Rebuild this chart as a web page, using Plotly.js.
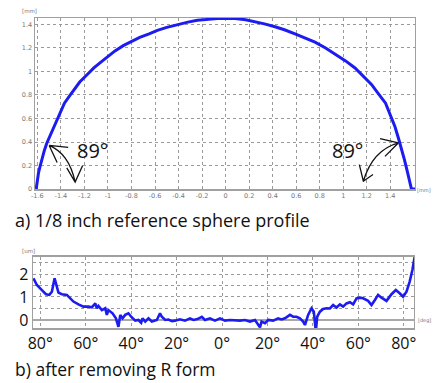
<!DOCTYPE html>
<html>
<head>
<meta charset="utf-8">
<script src="https://cdn.plot.ly/plotly-3.0.1.min.js"></script>
<style>html,body{margin:0;padding:0;background:#fff;}#chart{width:435px;height:383px;}</style>
</head>
<body>
<div id="chart"></div>
<script>
// a) 1/8 inch reference sphere profile (mm)
const profileX = [-1.61,-1.60,-1.59,-1.575,-1.56,-1.54,-1.52,-1.49,-1.46,-1.43,-1.41,-1.37,-1.32,-1.28,-1.24,-1.18,-1.12,-1.06,-1.00,-0.94,-0.87,-0.80,-0.73,-0.65,-0.58,-0.50,-0.41,-0.32,-0.24,-0.15,-0.07,0.00,0.08,0.17,0.25,0.33,0.42,0.50,0.59,0.67,0.76,0.85,0.93,1.02,1.10,1.17,1.24,1.30,1.36,1.40,1.44,1.47,1.50,1.52,1.54,1.555,1.57,1.58,1.61];
const profileY = [0,0.07,0.14,0.20,0.26,0.33,0.39,0.46,0.53,0.60,0.65,0.73,0.80,0.855,0.91,0.97,1.03,1.08,1.13,1.175,1.22,1.255,1.29,1.32,1.35,1.375,1.40,1.42,1.435,1.445,1.45,1.452,1.45,1.44,1.425,1.405,1.38,1.355,1.32,1.29,1.25,1.20,1.15,1.09,1.03,0.96,0.89,0.81,0.73,0.63,0.53,0.43,0.33,0.25,0.17,0.11,0.05,0,0];
const profXTicks = [-1.6,-1.4,-1.2,-1,-0.8,-0.6,-0.4,-0.2,0,0.2,0.4,0.6,0.8,1,1.2,1.4];
const profXLabels = ["-1.6","-1.4","-1.2","-1","-0.8","-0.6","-0.4","-0.2","0","0.2","0.4","0.6","0.8","1","1.2","1.4"];
const profYTicks = [0,0.2,0.4,0.6,0.8,1,1.2,1.4];
const profYLabels = ["0","0.2","0.4","0.6","0.8","1","1.2","1.4"];

// b) after removing R form (um vs deg)
const angleDeg = [-83,-81.5,-79.3,-77.5,-76,-74.9,-73.7,-73.1,-72,-70.5,-68.3,-66.8,-65.4,-63.2,-61,-58.8,-57.3,-55.8,-55.1,-54.4,-52.9,-51.4,-50.7,-50,-48.2,-46.7,-45.6,-44.8,-43.8,-42.6,-41.2,-40,-38.2,-36.8,-35.6,-35,-33.8,-32.4,-30.9,-28.7,-27.3,-26.5,-25,-23.6,-22,-20.7,-18.5,-16.3,-14.1,-12.6,-10.8,-8.9,-7.5,-5.3,-3.1,-0.9,1.3,3.5,5.7,7.9,10.1,12.3,14.5,16.7,17.4,18.9,20.4,22.5,24.7,26.2,27.7,29.9,31.3,32.8,34.3,35.7,36.5,37.2,37.9,39.4,40.4,41.3,41.9,43.1,44.5,46,47.5,48.9,50.4,51.9,53.3,54.8,56.3,57.7,59.2,60.7,62.1,64.3,65.8,67.3,68.7,70.2,72.4,74.6,76.5,78.2,79.7,81.2,82.6,83.8,84.8];
const deviationUm = [1.81,1.52,1.30,1.12,1.09,1.23,1.81,1.60,1.19,1.12,1.09,0.94,0.80,0.68,0.58,0.58,0.55,0.72,0.51,0.61,0.43,0.51,0.22,0.43,0.29,0.07,-0.30,0.22,0.07,0.22,0.29,0.14,-0.03,0.00,-0.12,0.07,-0.07,0.07,-0.07,0.00,0.29,0.14,0,0.02,-0.05,-0.03,0.03,-0.03,0.07,0,0.04,0.14,0,0.07,-0.03,0.07,-0.03,0,-0.03,-0.03,0,-0.07,0,-0.32,-0.07,-0.14,0,-0.03,0.07,0.02,0.07,0.22,0.14,0.14,0.07,-0.07,-0.22,0,0.22,0.51,0.36,-0.5,0.14,0.36,0.48,0.51,0.5,0.65,0.54,0.68,0.58,0.72,0.77,0.68,0.94,0.97,0.94,0.83,0.65,0.87,1.09,0.97,0.83,1.12,1.30,1.16,1.01,1.23,1.67,2.17,2.75];
const angleTicks = [-80,-60,-40,-20,0,20,40,60,80];
const angleLabels = ["80°","60°","40°","20°","0°","20°","40°","60°","80°"];
const devTicks = [0,0.5,1,1.5,2,2.5];
const devLabels = ["0","","1","","2",""];

const BLUE = "rgb(28,28,240)";
const CAL = "'Open Sans', 'Noto Sans', sans-serif";
const SMALL = "'DejaVu Sans', sans-serif";

const traces = [
  {x: profileX, y: profileY, xaxis: "x", yaxis: "y", type: "scatter", mode: "lines",
   line: {color: BLUE, width: 3}, hoverinfo: "skip"},
  {x: angleDeg, y: deviationUm, xaxis: "x2", yaxis: "y2", type: "scatter", mode: "lines",
   line: {color: BLUE, width: 2.6}, hoverinfo: "skip"}
];

const gridCommon = {showgrid: true, gridcolor: "#9a9a9a", griddash: "dot", gridwidth: 1,
  showline: true, linecolor: "#a0a0a0", linewidth: 1.5, mirror: true, ticks: "", zeroline: false, fixedrange: true};

const layout = {
  width: 435, height: 383,
  margin: {l: 0, r: 0, t: 0, b: 0},
  paper_bgcolor: "#fff", plot_bgcolor: "#fff",
  showlegend: false,
  xaxis: Object.assign({}, gridCommon, {domain: [0.0805, 0.954], range: [-1.62, 1.61], anchor: "y",
    tickmode: "array", tickvals: profXTicks, ticktext: profXLabels,
    tickfont: {family: SMALL, size: 6.5, color: "#777"}}),
  yaxis: Object.assign({}, gridCommon, {domain: [0.5065, 0.953], range: [0, 1.455], anchor: "x",
    tickmode: "array", tickvals: profYTicks, ticktext: profYLabels,
    tickfont: {family: SMALL, size: 6.5, color: "#777"}}),
  xaxis2: Object.assign({}, gridCommon, {domain: [0.0759, 0.9517], range: [-83.2, 84.5], anchor: "y2",
    tickmode: "array", tickvals: angleTicks, ticktext: angleLabels,
    tickfont: {family: CAL, size: 16, color: "#111"}}),
  yaxis2: Object.assign({}, gridCommon, {domain: [0.1436, 0.329], range: [-0.35, 2.74], anchor: "x2",
    tickmode: "array", tickvals: devTicks, ticktext: devLabels,
    zeroline: true, zerolinecolor: "#a8a8a8", zerolinewidth: 2,
    tickfont: {family: CAL, size: 16, color: "#111"}}),
  annotations: [
    {xref: "paper", yref: "paper", x: 13/435, y: 1 - 220/383, xanchor: "left", yanchor: "middle", showarrow: false,
     text: "a) 1/8 inch reference sphere profile", font: {family: CAL, size: 18, color: "#111"}},
    {xref: "paper", yref: "paper", x: 13/435, y: 1 - 369/383, xanchor: "left", yanchor: "middle", showarrow: false,
     text: "b) after removing R form", font: {family: CAL, size: 17.5, color: "#111"}},
    {xref: "paper", yref: "paper", x: 20/435, y: 1 - 11/383, xanchor: "left", yanchor: "middle", showarrow: false,
     text: "[mm]", font: {family: SMALL, size: 5.5, color: "#777"}},
    {xref: "paper", yref: "paper", x: 433/435, y: 1 - 190/383, xanchor: "right", yanchor: "middle", showarrow: false,
     text: "[mm]", font: {family: SMALL, size: 5, color: "#777"}},
    {xref: "paper", yref: "paper", x: 20/435, y: 1 - 251/383, xanchor: "left", yanchor: "middle", showarrow: false,
     text: "[um]", font: {family: SMALL, size: 5.5, color: "#777"}},
    {xref: "paper", yref: "paper", x: 433/435, y: 1 - 320/383, xanchor: "right", yanchor: "middle", showarrow: false,
     text: "[deg]", font: {family: SMALL, size: 5, color: "#777"}},
    {xref: "x", yref: "y", x: -1.13, y: 0.326, showarrow: false, text: "89°",
     font: {family: CAL, size: 20, color: "#111"}},
    {xref: "x", yref: "y", x: 1.037, y: 0.326, showarrow: false, text: "89°",
     font: {family: CAL, size: 20, color: "#111"}}
  ],
  shapes: [
    // left angle marker
    {type: "path", xref: "x", yref: "y", line: {color: "#111", width: 1.3},
     path: "M -1.4996 0.371 L -1.338 0.354 M -1.4996 0.371 L -1.432 0.225 M -1.4996 0.371 Q -1.33 0.30 -1.279 0.059 M -1.35 0.18 L -1.279 0.059 L -1.215 0.20"},
    // right angle marker
    {type: "path", xref: "x", yref: "y", line: {color: "#111", width: 1.3},
     path: "M 1.468 0.392 L 1.313 0.428 M 1.468 0.392 L 1.355 0.278 M 1.468 0.392 Q 1.25 0.33 1.171 0.066 M 1.137 0.208 L 1.171 0.066 L 1.253 0.123"}
  ]
};

Plotly.newPlot("chart", traces, layout, {staticPlot: true, displayModeBar: false});
</script>
</body>
</html>
